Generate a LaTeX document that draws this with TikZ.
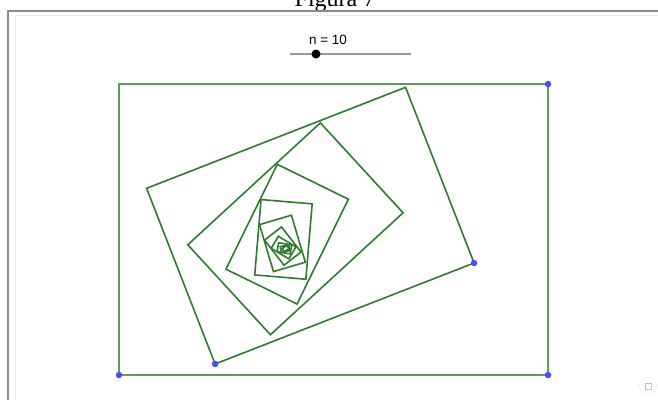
\documentclass[tikz,border=0pt]{standalone}
\usepackage{fontspec}
\setmainfont{Liberation Serif}
\newfontfamily\ggbfont{Liberation Sans}
\definecolor{ggbgreen}{RGB}{46,125,46}
\definecolor{ggbouter}{RGB}{90,158,90}
\definecolor{ggbblue}{RGB}{77,77,255}
\definecolor{framegray}{RGB}{140,140,140}

\begin{document}
\begin{tikzpicture}[
  x=1pt, y=-1pt,
  poly/.style = {draw=ggbgreen, line width=1.6pt, line join=miter},
  outerpoly/.style = {draw=ggbouter, line width=2.4pt},
  pt/.style = {circle, fill=ggbblue, inner sep=0pt, minimum size=6.5pt},
  slider/.style = {draw=gray!80, line width=2pt},
  knob/.style = {circle, fill=black, inner sep=0pt, minimum size=9pt}
]
\useasboundingbox[fill=white] (0,0) rectangle (658,400);

% title and frame
\node[font=\fontsize{24}{24}\selectfont, anchor=base] (title) at (335,6) {Figura 7};
\draw[framegray, line width=1.2pt] (658,11) -- (8,11) -- (8,400);
\draw[gray!15, line width=1pt] (15,400) -- (15,15) -- (658,15);

% slider
\coordinate (s0) at (290,54);
\coordinate (s1) at (411,54);
\draw[slider] (s0) -- (s1);
\node[knob] (kn) at (316,54) {};
\node[font=\ggbfont\fontsize{13.5}{13.5}\selectfont] (lab) at (328,40) {n = 10};

% outer rectangle
\coordinate (O) at (286,248);
\draw[outerpoly] (119,375) -- (548,375) -- (548,84) -- (119,84) -- cycle;
\node[pt] (A) at (119,375) {};
\node[pt] (B) at (548,375) {};
\node[pt] (C) at (548,84) {};

% images under the spiral similarity
\foreach \k [evaluate=\k as \f using 0.648^\k,
             evaluate=\k as \a using 21.3*\k] in {1,...,10} {
  \begin{scope}[rotate around={\a:(286,248)}, scale around={\f:(286,248)}]
    \draw[poly] (119,375) -- (548,375) -- (548,84) -- (119,84) -- cycle;
  \end{scope}
}
\begin{scope}[rotate around={21.3:(286,248)}, scale around={0.648:(286,248)}]
  \node[pt] (A1) at (119,375) {};
  \node[pt] (B1) at (548,375) {};
\end{scope}

% fullscreen button
\node[circle, draw=gray!20, fill=white, minimum size=17pt, inner sep=0pt] (fs) at (648,386) {};
\draw[gray!50, line width=0.5pt] (fs.center) ++(-3,-3) rectangle ++(6,6);
\end{tikzpicture}
\end{document}
